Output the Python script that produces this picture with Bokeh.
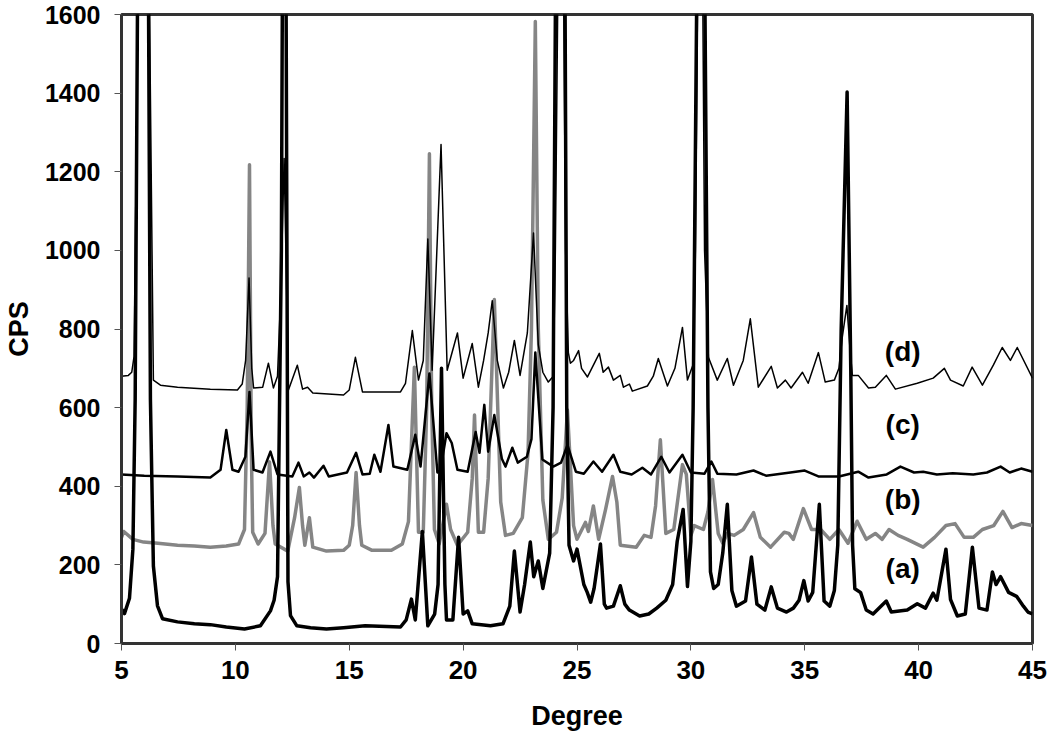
from bokeh.plotting import figure
from bokeh.models import Range1d, FixedTicker, ColumnDataSource
from bokeh.core.properties import value
from bokeh.embed import file_html
from bokeh.resources import INLINE

# ---- data (2-theta in degrees, intensity in CPS) ----
x_ticks = [5, 10, 15, 20, 25, 30, 35, 40, 45]
y_ticks = [0, 200, 400, 600, 800, 1000, 1200, 1400, 1600]

# (a) thick black
a_x = [5.0, 5.13, 5.35, 5.5, 5.6, 5.97, 6.27, 6.4, 6.58, 6.8, 7.46, 8.2, 8.9, 9.6, 10.4, 11.1,
       11.54, 11.7, 11.85, 12.02, 12.15, 12.27, 12.31, 12.42, 12.7, 13.3, 14.0, 14.75, 15.7,
       17.25, 17.5, 17.73, 17.9, 18.21, 18.45, 18.75, 18.9, 19.05, 19.2, 19.27, 19.55, 19.8,
       20.0, 20.2, 20.4, 21.2, 21.75, 22.05, 22.25, 22.5, 22.7, 22.95, 23.1, 23.3, 23.5, 23.8,
       23.95, 24.3, 24.55, 24.65, 24.85, 25.0, 25.3, 25.45, 25.6, 25.75, 26.03, 26.2, 26.3,
       26.6, 26.9, 27.1, 27.3, 27.75, 28.15, 28.5, 28.9, 29.2, 29.4, 29.66, 29.85, 30.0, 30.1,
       30.45, 30.75, 30.86, 31.0, 31.2, 31.4, 31.6, 31.8, 32.0, 32.4, 32.66, 32.9, 33.25,
       33.53, 33.8, 34.2, 34.5, 34.75, 34.96, 35.15, 35.35, 35.64, 35.85, 36.1, 36.3, 36.45,
       36.6, 36.86, 37.02, 37.1, 37.2, 37.45, 37.7, 38.0, 38.58, 38.8, 39.5, 39.94, 40.3,
       40.64, 40.8, 41.2, 41.4, 41.7, 42.05, 42.36, 42.65, 43.0, 43.24, 43.4, 43.6, 43.95,
       44.3, 44.6, 44.8, 45.0]
a_y = [88, 76, 115, 240, 620, 4250, 620, 197, 96, 63, 55, 50, 48, 42, 37, 45,
       83, 110, 170, 1000, 2950, 900, 157, 71, 45, 40, 37, 40, 45,
       42, 60, 113, 60, 285, 45, 75, 150, 700, 150, 60, 60, 270,
       75, 83, 50, 45, 50, 95, 235, 80, 150, 258, 170, 210, 140, 230,
       600, 4100, 600, 250, 210, 240, 150, 130, 105, 140, 253, 100, 90,
       95, 147, 100, 85, 70, 75, 90, 110, 150, 260, 341, 145, 260, 600,
       2930, 600, 182, 140, 150, 230, 354, 135, 95, 108, 220, 100, 85,
       144, 90, 80, 90, 110, 160, 108, 130, 354, 108, 95, 135, 250,
       800, 1403, 700, 250, 139, 130, 85, 75, 108, 80, 85, 101, 90,
       128, 110, 240, 112, 70, 75, 245, 90, 85, 182, 150, 170, 130,
       120, 95, 80, 75]

# (b) thick grey
b_x = [5.0, 5.1, 5.5, 5.97, 6.6, 7.46, 8.2, 8.9, 9.6, 10.14, 10.4, 10.52, 10.62, 10.7, 10.76,
       11.0, 11.3, 11.5, 11.65, 11.75, 12.3, 12.6, 12.81, 12.95, 13.05, 13.25, 13.4, 14.0,
       14.75, 15.0, 15.15, 15.3, 15.45, 15.55, 16.0, 16.85, 17.33, 17.6, 17.86, 18.04, 18.25,
       18.4, 18.52, 18.62, 18.74, 18.95, 19.27, 19.45, 19.75, 20.2, 20.4, 20.5, 20.67, 20.9,
       21.1, 21.37, 21.65, 21.86, 22.2, 22.6, 22.85, 23.0, 23.17, 23.3, 23.5, 23.74, 24.1,
       24.35, 24.58, 24.85, 25.0, 25.37, 25.5, 25.72, 25.95, 26.25, 26.56, 26.75, 26.9, 27.6,
       27.95, 28.25, 28.45, 28.66, 28.9, 29.25, 29.63, 29.8, 30.0, 30.15, 30.55, 30.75, 30.95,
       31.2, 31.4, 31.6, 31.9, 32.3, 32.75, 33.05, 33.5, 34.1, 34.3, 34.5, 34.94, 35.3, 35.7,
       36.1, 36.5, 36.9, 37.3, 37.7, 38.1, 38.4, 38.7, 39.1, 39.5, 40.2, 40.7, 41.2, 41.6,
       42.0, 42.4, 42.8, 43.3, 43.7, 44.1, 44.5, 45.0]
b_y = [270, 285, 265, 258, 255, 250, 248, 245, 248, 253, 290, 600, 1218, 500, 283,
       253, 280, 462, 300, 253, 235, 320, 397, 300, 250, 320, 245, 235,
       237, 250, 300, 435, 300, 250, 237, 237, 253, 310, 703, 283, 283,
       600, 1246, 600, 290, 253, 354, 290, 250, 283, 420, 581, 283, 283,
       420, 875, 360, 275, 280, 320, 485, 800, 1582, 800, 365, 265, 283,
       370, 594, 300, 265, 308, 285, 350, 265, 340, 425, 360, 250, 245,
       275, 270, 350, 518, 280, 290, 455, 430, 275, 300, 290, 335, 417,
       280, 255, 280, 275, 290, 333, 270, 245, 283, 280, 265, 343, 290, 290,
       265, 290, 255, 311, 265, 280, 265, 290, 275, 265, 245, 270, 300, 305,
       270, 270, 290, 300, 336, 295, 305, 300]

# (c) medium black
c_x = [5.0, 6.0, 7.46, 8.9, 9.35, 9.6, 9.87, 10.14, 10.44, 10.62, 10.8, 11.19, 11.54, 11.85,
       12.5, 12.77, 13.0, 13.25, 13.45, 13.87, 14.1, 14.9, 15.3, 15.58, 15.9, 16.1, 16.37,
       16.72, 16.94, 17.55, 17.9, 18.13, 18.52, 18.87, 19.0, 19.27, 19.5, 19.75, 20.2, 20.55,
       20.72, 20.93, 21.1, 21.37, 21.7, 21.86, 22.16, 22.4, 22.8, 23.0, 23.17, 23.48, 23.96,
       24.3, 24.58, 24.95, 25.3, 25.72, 26.1, 26.6, 26.9, 27.4, 27.87, 28.25, 28.7, 29.06,
       29.63, 30.0, 30.6, 30.9, 31.16, 32.0, 32.75, 33.3, 34.37, 35.0, 35.6, 36.5, 37.35,
       37.8, 38.6, 39.2, 39.8, 40.2, 40.8, 41.5, 42.4, 43.0, 43.6, 44.0, 44.5, 45.0]
c_y = [430, 427, 425, 422, 442, 543, 442, 437, 475, 640, 442, 435, 488, 430,
       425, 460, 425, 435, 422, 452, 425, 435, 485, 430, 432, 480, 437,
       556, 450, 442, 531, 450, 687, 435, 440, 535, 510, 442, 437, 538,
       485, 607, 488, 581, 470, 450, 498, 460, 475, 520, 740, 468, 450,
       460, 505, 437, 432, 463, 437, 480, 437, 430, 447, 430, 475, 435,
       480, 435, 432, 463, 432, 430, 440, 427, 435, 440, 425, 425, 437,
       422, 430, 450, 435, 437, 430, 433, 430, 435, 450, 435, 445, 437]

# (d) thin black
d_x = [5.0, 5.3, 5.45, 5.55, 5.7, 5.97, 6.25, 6.4, 6.71, 7.46, 8.9, 10.09, 10.3, 10.45, 10.6,
       10.72, 10.8, 11.2, 11.45, 11.67, 11.85, 12.0, 12.14, 12.25, 12.33, 12.72, 12.95, 13.17,
       13.4, 14.75, 15.0, 15.27, 15.58, 17.25, 17.47, 17.77, 18.04, 18.25, 18.45, 18.64, 19.03,
       19.3, 19.75, 20.0, 20.4, 20.67, 20.9, 21.1, 21.28, 21.5, 21.77, 22.0, 22.25, 22.5, 22.82,
       23.09, 23.3, 23.5, 23.74, 23.96, 24.05, 24.3, 24.5, 24.62, 24.71, 24.85, 25.07, 25.2,
       25.46, 25.98, 26.15, 26.38, 26.6, 26.9, 27.04, 27.3, 27.43, 28.09, 28.35, 28.57, 28.97,
       29.3, 29.63, 29.85, 30.1, 30.2, 30.42, 30.6, 30.77, 31.16, 31.6, 31.87, 32.3, 32.61,
       32.96, 33.53, 33.8, 34.15, 34.4, 34.9, 35.15, 35.6, 35.9, 36.3, 36.5, 36.65, 36.85,
       37.0, 37.09, 37.35, 37.8, 38.1, 38.58, 38.98, 39.94, 40.64, 41.13, 41.4, 41.96, 42.35,
       42.8, 43.28, 43.67, 44.03, 44.33, 45.0]
d_y = [680, 682, 690, 730, 1500, 3000, 1500, 670, 657, 652, 647, 645, 660, 720, 930,
       700, 650, 652, 713, 650, 680, 900, 1234, 900, 645, 708, 647, 652,
       637, 632, 645, 728, 640, 640, 662, 796, 670, 720, 1029, 695, 1269,
       695, 790, 675, 763, 652, 720, 790, 872, 720, 650, 690, 771, 682, 790,
       1044, 760, 690, 665, 680, 1000, 2500, 1000, 740, 713, 720, 745, 700,
       678, 738, 690, 703, 670, 682, 652, 660, 642, 655, 680, 725, 655,
       700, 804, 670, 710, 1000, 2500, 1000, 728, 670, 725, 657, 720, 826,
       652, 705, 650, 670, 650, 690, 662, 740, 665, 670, 700, 780, 860,
       740, 682, 682, 650, 652, 682, 647, 662, 675, 700, 670, 655, 703,
       657, 708, 753, 720, 753, 675]

label_text = ["(d)", "(c)", "(b)", "(a)"]
label_x = [39.3, 39.3, 39.3, 39.3]
label_y = [743, 556, 367, 192]

# ---- figure ----
p = figure(width=1048, height=733, x_range=Range1d(5, 45), y_range=Range1d(0, 1600),
           output_backend="svg", toolbar_location=None,
           min_border_left=121, min_border_right=16, min_border_top=14, min_border_bottom=88)
p.background_fill_color = "white"
p.border_fill_color = "white"
p.xgrid.visible = False
p.ygrid.visible = False
p.outline_line_color = "#333333"
p.outline_line_width = 3

FONT = "Liberation Sans"
for ax in (p.xaxis[0], p.yaxis[0]):
    ax.axis_line_color = "#333333"
    ax.axis_line_width = 3
    ax.major_tick_line_color = "#555555"
    ax.major_tick_line_width = 1
    ax.major_tick_in = 0
    ax.major_tick_out = 7
    ax.minor_tick_line_color = None
    ax.major_label_text_font = FONT
    ax.major_label_text_font_style = "bold"
    ax.major_label_text_color = "black"
    ax.axis_label_text_font = FONT
    ax.axis_label_text_font_style = "bold"
    ax.axis_label_text_font_size = "27px"
    ax.axis_label_text_color = "black"

p.xaxis.major_label_text_font_size = "26px"
p.yaxis.major_label_text_font_size = "25px"
p.xaxis.ticker = FixedTicker(ticks=x_ticks)
p.yaxis.ticker = FixedTicker(ticks=y_ticks)
p.xaxis.axis_label = "Degree"
p.yaxis.axis_label = "CPS"
p.xaxis.major_label_standoff = 10
p.xaxis.axis_label_standoff = 19
p.yaxis.major_label_standoff = 14
p.yaxis.axis_label_standoff = 8

p.line(b_x, b_y, line_color="#858585", line_width=3.5, line_join="round")
p.line(a_x, a_y, line_color="#000000", line_width=3.5, line_join="round")
p.line(c_x, c_y, line_color="#000000", line_width=2.5, line_join="round")
p.line(d_x, d_y, line_color="#000000", line_width=1.5, line_join="round")

src = ColumnDataSource(dict(x=label_x, y=label_y, t=label_text))
p.text(x="x", y="y", text="t", source=src, text_font=value(FONT), text_font_style="bold",
       text_font_size=value("28px"), text_align="center", text_baseline="middle",
       text_color="black")

open("out.html", "w").write(file_html(p, INLINE))
